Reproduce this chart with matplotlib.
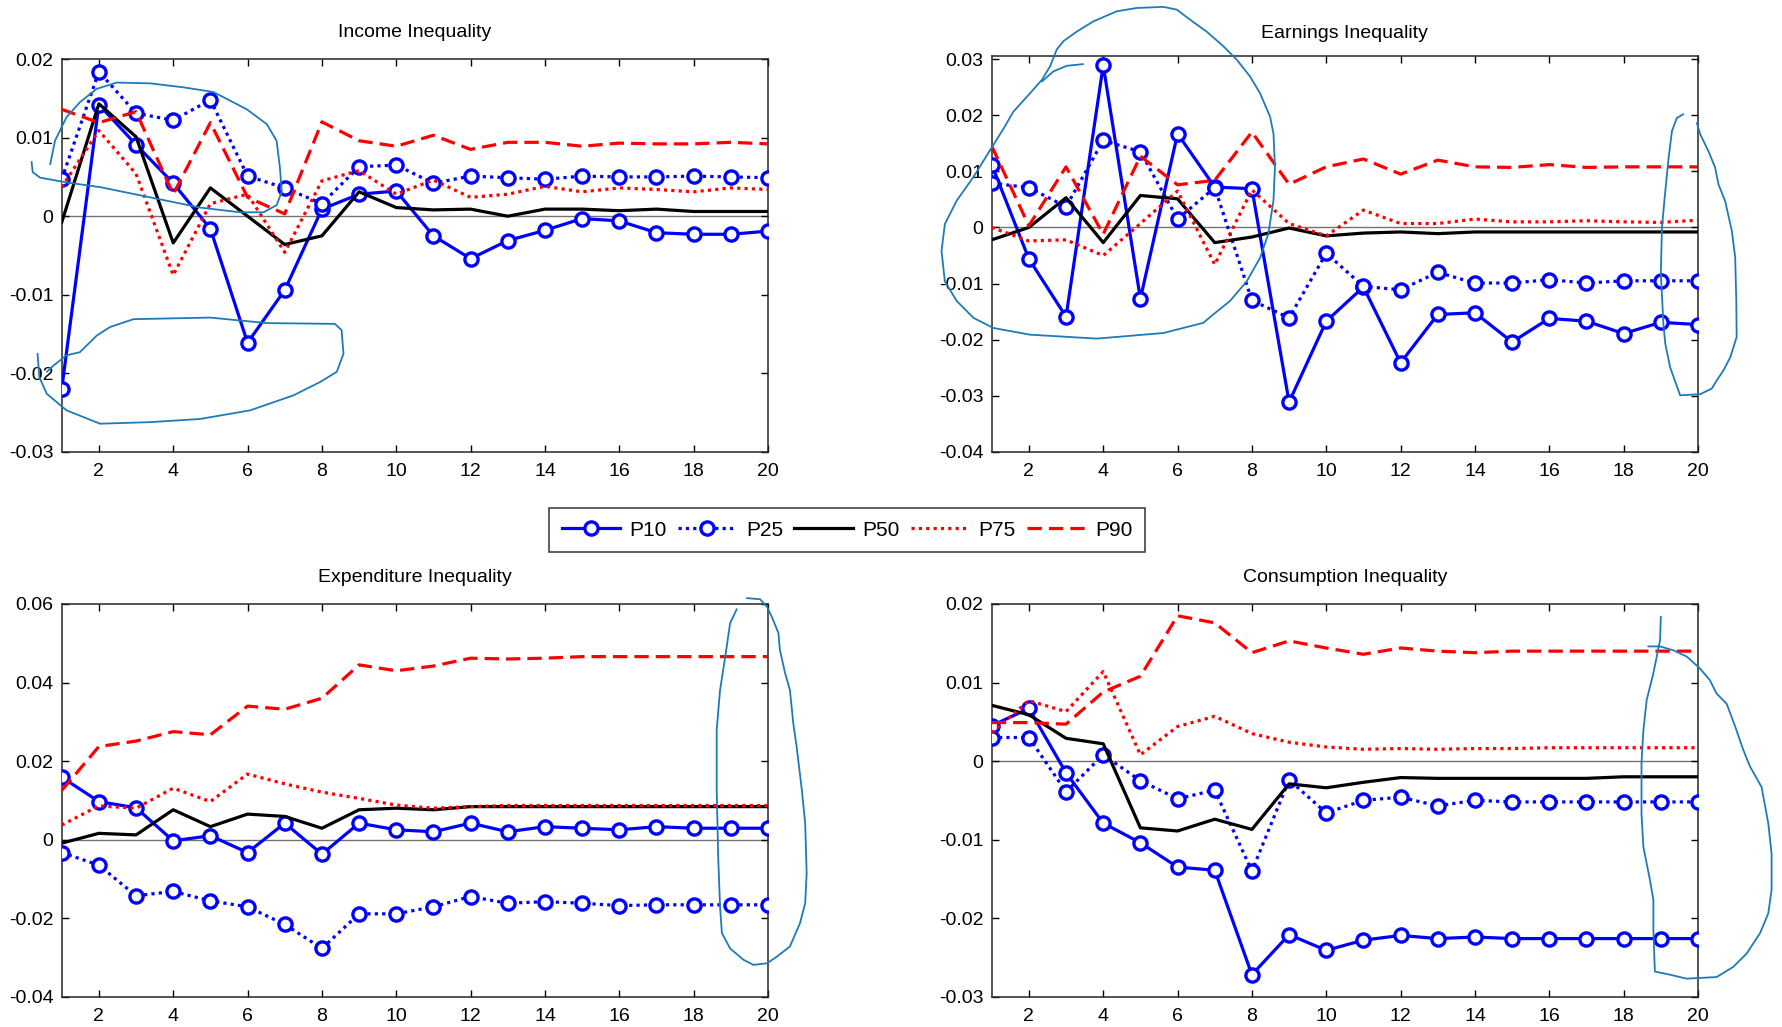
import matplotlib.pyplot as plt
from matplotlib.lines import Line2D
from matplotlib.ticker import FuncFormatter

plt.rcParams['font.family'] = ['Liberation Sans', 'DejaVu Sans']
plt.rcParams['axes.unicode_minus'] = False

periods = list(range(1, 21))
series_names = ['P10', 'P25', 'P50', 'P75', 'P90']
titles = ['Income Inequality', 'Earnings Inequality',
          'Expenditure Inequality', 'Consumption Inequality']

# --- Income inequality
income_p10 = [-0.0220, 0.0142, 0.0091, 0.0042, -0.0016, -0.0161, -0.0094, 0.0009, 0.0028, 0.0032,
              -0.0025, -0.0054, -0.0031, -0.0018, -0.0003, -0.0006, -0.0021, -0.0023, -0.0023, -0.0019]
income_p25 = [0.0047, 0.0184, 0.0131, 0.0122, 0.0148, 0.0051, 0.0036, 0.0016, 0.0063, 0.0065,
              0.0042, 0.0051, 0.0049, 0.0047, 0.0051, 0.0050, 0.0050, 0.0051, 0.0050, 0.0049]
income_p50 = [-0.0008, 0.0143, 0.0101, -0.0034, 0.0036, 0.0000, -0.0036, -0.0025, 0.0031, 0.0011,
              0.0008, 0.0009, 0.0000, 0.0009, 0.0009, 0.0007, 0.0009, 0.0006, 0.0006, 0.0006]
income_p75 = [0.0037, 0.0109, 0.0054, -0.0075, 0.0016, 0.0028, -0.0046, 0.0045, 0.0058, 0.0028,
              0.0046, 0.0024, 0.0028, 0.0038, 0.0031, 0.0036, 0.0034, 0.0031, 0.0036, 0.0034]
income_p90 = [0.0136, 0.0119, 0.0133, 0.0028, 0.0119, 0.0024, 0.0003, 0.0120, 0.0096, 0.0089,
              0.0103, 0.0085, 0.0094, 0.0094, 0.0089, 0.0093, 0.0092, 0.0092, 0.0094, 0.0092]

# --- Earnings inequality
earn_p10 = [0.0112, -0.0056, -0.0159, 0.0289, -0.0127, 0.0167, 0.0072, 0.0069, -0.0311, -0.0167,
            -0.0106, -0.0241, -0.0155, -0.0152, -0.0204, -0.0162, -0.0167, -0.0189, -0.0169, -0.0173]
earn_p25 = [0.0079, 0.0071, 0.0037, 0.0155, 0.0135, 0.0015, 0.0071, -0.0130, -0.0161, -0.0046,
            -0.0105, -0.0111, -0.0080, -0.0099, -0.0099, -0.0093, -0.0099, -0.0095, -0.0095, -0.0095]
earn_p50 = [-0.0022, 0.0000, 0.0053, -0.0027, 0.0057, 0.0051, -0.0027, -0.0017, -0.0001, -0.0015,
            -0.0010, -0.0008, -0.0011, -0.0008, -0.0008, -0.0008, -0.0008, -0.0008, -0.0008, -0.0008]
earn_p75 = [0.0000, -0.0024, -0.0022, -0.0050, 0.0007, 0.0065, -0.0066, 0.0067, 0.0007, -0.0015,
            0.0031, 0.0007, 0.0007, 0.0015, 0.0010, 0.0010, 0.0012, 0.0010, 0.0009, 0.0013]
earn_p90 = [0.0145, 0.0003, 0.0108, -0.0012, 0.0127, 0.0076, 0.0084, 0.0170, 0.0077, 0.0108,
            0.0122, 0.0095, 0.0120, 0.0108, 0.0107, 0.0112, 0.0107, 0.0108, 0.0108, 0.0108]

# --- Expenditure inequality
exp_p10 = [0.0159, 0.0097, 0.0081, -0.0003, 0.0010, -0.0033, 0.0042, -0.0037, 0.0042, 0.0025,
           0.0020, 0.0042, 0.0020, 0.0033, 0.0029, 0.0025, 0.0033, 0.0029, 0.0029, 0.0029]
exp_p25 = [-0.0033, -0.0065, -0.0143, -0.0132, -0.0156, -0.0171, -0.0216, -0.0277, -0.0189, -0.0189,
           -0.0171, -0.0145, -0.0162, -0.0158, -0.0162, -0.0168, -0.0166, -0.0166, -0.0166, -0.0166]
exp_p50 = [-0.0009, 0.0016, 0.0012, 0.0076, 0.0033, 0.0065, 0.0059, 0.0029, 0.0076, 0.0080,
           0.0076, 0.0084, 0.0084, 0.0084, 0.0084, 0.0084, 0.0084, 0.0084, 0.0084, 0.0084]
exp_p75 = [0.0037, 0.0086, 0.0080, 0.0131, 0.0097, 0.0167, 0.0142, 0.0121, 0.0105, 0.0088,
           0.0080, 0.0084, 0.0087, 0.0087, 0.0087, 0.0087, 0.0087, 0.0087, 0.0087, 0.0087]
exp_p90 = [0.0125, 0.0237, 0.0251, 0.0275, 0.0267, 0.0340, 0.0332, 0.0360, 0.0445, 0.0430,
           0.0442, 0.0462, 0.0460, 0.0462, 0.0466, 0.0466, 0.0466, 0.0466, 0.0466, 0.0466]

# --- Consumption inequality
cons_p10 = [0.0045, 0.0067, -0.0015, -0.0079, -0.0104, -0.0135, -0.0139, -0.0272, -0.0221, -0.0241,
            -0.0228, -0.0222, -0.0226, -0.0224, -0.0226, -0.0226, -0.0226, -0.0226, -0.0226, -0.0226]
cons_p25 = [0.0030, 0.0030, -0.0039, 0.0008, -0.0025, -0.0048, -0.0037, -0.0140, -0.0024, -0.0066,
            -0.0050, -0.0046, -0.0057, -0.0050, -0.0052, -0.0052, -0.0052, -0.0052, -0.0052, -0.0052]
cons_p50 = [0.0071, 0.0059, 0.0029, 0.0022, -0.0085, -0.0089, -0.0074, -0.0087, -0.0029, -0.0034,
            -0.0027, -0.0021, -0.0022, -0.0022, -0.0022, -0.0022, -0.0022, -0.0020, -0.0020, -0.0020]
cons_p75 = [0.0036, 0.0077, 0.0063, 0.0114, 0.0008, 0.0044, 0.0057, 0.0035, 0.0024, 0.0018,
            0.0015, 0.0016, 0.0015, 0.0016, 0.0016, 0.0017, 0.0017, 0.0017, 0.0017, 0.0017]
cons_p90 = [0.0049, 0.0049, 0.0047, 0.0088, 0.0108, 0.0185, 0.0176, 0.0138, 0.0153, 0.0144,
            0.0136, 0.0144, 0.0140, 0.0138, 0.0140, 0.0140, 0.0140, 0.0140, 0.0140, 0.0140]

panel_data = [
    [income_p10, income_p25, income_p50, income_p75, income_p90],
    [earn_p10, earn_p25, earn_p50, earn_p75, earn_p90],
    [exp_p10, exp_p25, exp_p50, exp_p75, exp_p90],
    [cons_p10, cons_p25, cons_p50, cons_p75, cons_p90],
]
ylims = [(-0.03, 0.02), (-0.04, 0.0306), (-0.04, 0.06), (-0.03, 0.02)]
yticks = [
    [-0.03, -0.02, -0.01, 0, 0.01, 0.02],
    [-0.04, -0.03, -0.02, -0.01, 0, 0.01, 0.02, 0.03],
    [-0.04, -0.02, 0, 0.02, 0.04, 0.06],
    [-0.03, -0.02, -0.01, 0, 0.01, 0.02],
]

# hand-drawn pen marks on the original (data coords of each panel)
scribbles = {
    0: [
        ([0.69, 0.82, 1.13, 1.49, 1.94, 2.48, 3.38, 4.27, 5.08, 5.98, 6.52, 6.78, 6.87, 6.92, 6.78,
          6.43, 5.80, 4.72, 3.38, 2.03, 1.13, 0.42, 0.22, 0.19],
         [0.0066, 0.0096, 0.0126, 0.0145, 0.0162, 0.0170, 0.0169, 0.0164, 0.0158, 0.0136, 0.0117,
          0.0096, 0.0062, 0.0031, 0.0014, 0.0005, 0.0005, 0.0011, 0.0024, 0.0037, 0.0043, 0.0049,
          0.0056, 0.0069]),
        ([0.35, 0.40, 0.60, 1.13, 2.03, 3.38, 4.72, 6.07, 7.23, 7.95, 8.40, 8.58, 8.53, 8.35, 6.52,
          4.99, 2.93, 2.30, 1.94, 1.49, 1.13, 0.78, 0.60],
         [-0.0175, -0.0205, -0.0226, -0.0247, -0.0264, -0.0262, -0.0258, -0.0247, -0.0228, -0.0211,
          -0.0198, -0.0175, -0.0145, -0.0137, -0.0136, -0.0129, -0.0131, -0.0141, -0.0152, -0.0173,
          -0.0177, -0.0190, -0.0198]),
    ],
    1: [
        ([0.95, 1.31, 1.58, 2.03, 2.35, 2.57, 2.75, 2.93, 3.29, 3.73, 4.36, 4.90, 5.62, 5.98, 6.34,
          6.78, 7.23, 7.59, 7.95, 8.22, 8.49, 8.58, 8.62, 8.58, 8.44, 8.22, 7.86, 7.41, 6.96, 6.69,
          5.62, 3.83, 2.03, 1.04, 0.51, 0.06, -0.26, -0.35, -0.26, 0.06, 0.51, 0.95],
         [0.0137, 0.0175, 0.0206, 0.0239, 0.0263, 0.0287, 0.0317, 0.0332, 0.0349, 0.0367, 0.0385,
          0.0391, 0.0393, 0.0388, 0.0370, 0.0349, 0.0323, 0.0299, 0.0269, 0.0239, 0.0197, 0.0167,
          0.0108, 0.0048, -0.0012, -0.0054, -0.0096, -0.0131, -0.0155, -0.0170, -0.0188, -0.0198,
          -0.0191, -0.0179, -0.0161, -0.0131, -0.0096, -0.0042, 0.0006, 0.0048, 0.0090, 0.0137]),
        ([3.46, 3.02, 2.66, 2.35],
         [0.0291, 0.0288, 0.0278, 0.0260]),
        ([19.61, 19.43, 19.30, 19.21, 19.12, 19.03, 19.00, 19.07, 19.12, 19.25, 19.52, 20.06, 20.37,
          20.51, 20.69, 20.87, 21.04, 21.03, 21.00, 20.91, 20.73, 20.55, 20.46, 20.28, 20.06, 19.97],
         [0.0202, 0.0195, 0.0172, 0.0124, 0.0065, 0.0000, -0.0083, -0.0172, -0.0207, -0.0249,
          -0.0299, -0.0297, -0.0287, -0.0272, -0.0254, -0.0231, -0.0195, -0.0130, -0.0053, -0.0006,
          0.0047, 0.0077, 0.0107, 0.0136, 0.0166, 0.0186]),
    ],
    2: [
        ([19.16, 18.98, 18.85, 18.71, 18.62, 18.62, 18.66, 18.71, 18.76, 18.98, 19.34, 19.61, 19.97,
          20.24, 20.59, 20.86, 21.00, 21.04, 21.00, 20.91, 20.77, 20.68, 20.59, 20.46, 20.32, 20.28,
          20.10, 19.97, 19.79, 19.43],
         [0.0587, 0.0551, 0.0466, 0.0381, 0.0279, 0.0127, -0.0043, -0.0171, -0.0238, -0.0277,
          -0.0306, -0.0319, -0.0315, -0.0298, -0.0272, -0.0213, -0.0162, -0.0086, 0.0042, 0.0127,
          0.0237, 0.0296, 0.0381, 0.0424, 0.0483, 0.0526, 0.0568, 0.0593, 0.0612, 0.0615]),
    ],
    3: [
        ([19.00, 18.98, 18.80, 18.62, 18.53, 18.48, 18.48, 18.53, 18.71, 18.80, 18.80, 18.84, 19.25,
          19.69, 20.50, 20.95, 21.31, 21.67, 21.89, 21.98, 21.98, 21.89, 21.71, 21.40, 21.22, 21.00,
          20.77, 20.50, 20.32, 20.05, 19.70, 19.34, 18.98, 18.66],
         [0.0184, 0.0154, 0.0112, 0.0078, 0.0039, -0.0003, -0.0067, -0.0109, -0.0152, -0.0177,
          -0.0215, -0.0268, -0.0272, -0.0277, -0.0275, -0.0262, -0.0245, -0.0219, -0.0194, -0.0164,
          -0.0118, -0.0079, -0.0033, -0.0007, 0.0014, 0.0044, 0.0073, 0.0086, 0.0103, 0.0118,
          0.0133, 0.0141, 0.0146, 0.0146]),
    ],
}

blue = '#0000ff'
red = '#ff0000'
dotted = (0, (1, 1.3))
dashed = (0, (4.5, 2.2))
styles = [
    dict(color=blue, ls='-', marker='o'),
    dict(color=blue, ls=dotted, marker='o'),
    dict(color='black', ls='-', marker=None),
    dict(color=red, ls=dotted, marker=None),
    dict(color=red, ls=dashed, marker=None),
]

W, H = 1783, 1027
fig = plt.figure(figsize=(W / 100, H / 100), dpi=100)
boxes = [
    (61.7, 59, 768, 452),
    (991.7, 55.7, 1698, 452),
    (61.7, 604, 768, 996.7),
    (991.7, 604, 1698, 996.7),
]
title_pads = [15.5, 13, 15.5, 15.5]

fmt = FuncFormatter(lambda v, p: '%g' % round(v, 4))

for i, (l, t, r, b) in enumerate(boxes):
    ax = fig.add_axes([l / W, 1 - b / H, (r - l) / W, (b - t) / H])
    ax.axhline(0, color='0.45', lw=1.0, zorder=1)
    for vals, st in zip(panel_data[i], styles):
        kw = dict(color=st['color'], ls=st['ls'], lw=2.3, zorder=3)
        if st['marker']:
            kw.update(marker='o', ms=9.5, mfc='white', mec=st['color'], mew=2.4)
        ax.plot(periods, vals, **kw)
    for xs, ys in scribbles.get(i, []):
        ax.plot(xs, ys, color='#1f7ab8', lw=1.3, clip_on=False, zorder=5,
                solid_joinstyle='round', solid_capstyle='round')
    ax.set_xlim(1, 20)
    ax.set_ylim(*ylims[i])
    ax.set_xticks(range(2, 21, 2))
    ax.set_yticks(yticks[i])
    ax.yaxis.set_major_formatter(fmt)
    ax.tick_params(direction='in', top=True, right=True, length=5, width=1,
                   labelsize=14, pad=6)
    ax.tick_params(axis='x', pad=8)
    for sp in ax.spines.values():
        sp.set_linewidth(1.1)
        sp.set_color('0.15')
    ax.set_title(titles[i], fontsize=14, pad=title_pads[i])

handles = []
for name, st in zip(series_names, styles):
    if st['marker']:
        h = Line2D([], [], color=st['color'], ls=st['ls'], lw=2.3, marker='o', ms=9.5,
                   mfc='white', mec=st['color'], mew=2.4)
    else:
        h = Line2D([], [], color=st['color'], ls=st['ls'], lw=2.3)
    handles.append(h)

leg = fig.legend(handles, series_names, loc='center', bbox_to_anchor=(847 / W, 1 - 530 / H),
                 ncol=5, fontsize=15, frameon=True, fancybox=False, handlelength=2.8,
                 handletextpad=0.45, columnspacing=0.55, borderpad=0.6, numpoints=1)
leg.get_frame().set_edgecolor('black')
leg.get_frame().set_linewidth(1.1)

fig.savefig('out.png', dpi=100)
